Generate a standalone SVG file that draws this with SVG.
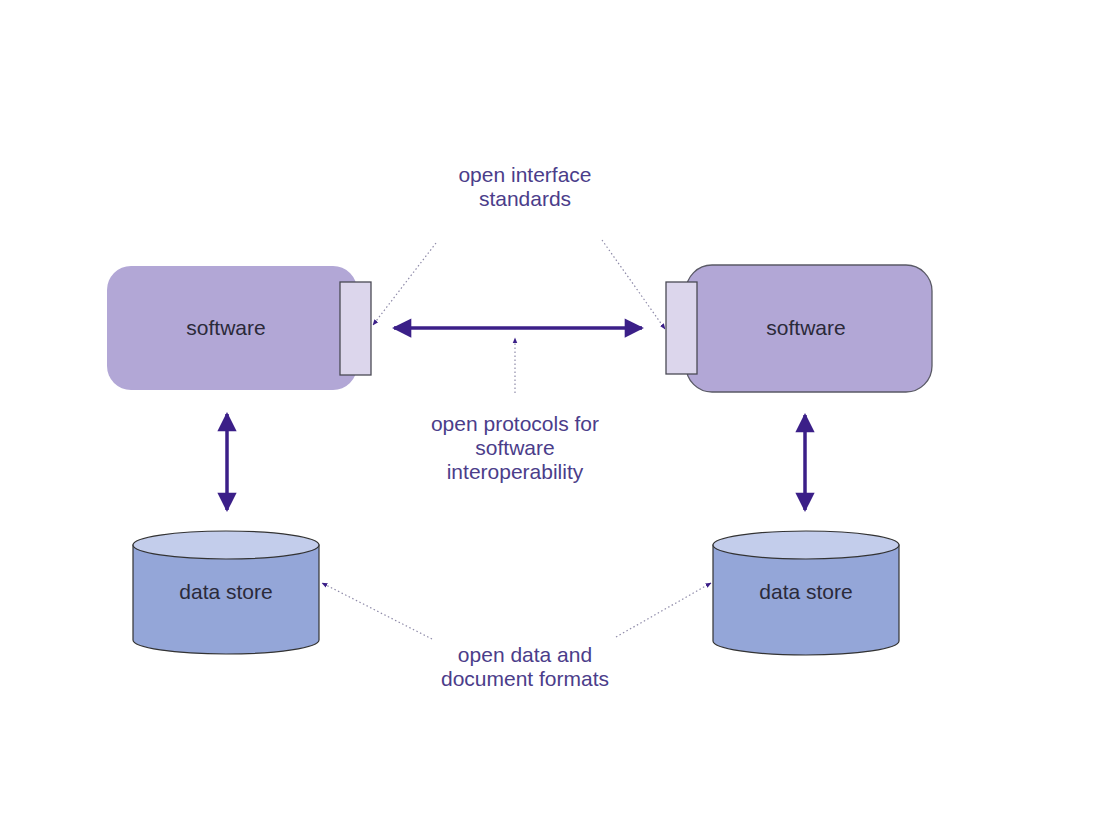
<svg xmlns="http://www.w3.org/2000/svg" width="1100" height="824" viewBox="0 0 1100 824">
<style>
.sw{fill:#b2a7d6;}
.swr{fill:#b2a7d6;stroke:#5a5a66;stroke-width:1.3;}
.iface{fill:#dcd6ec;stroke:#4a4a55;stroke-width:1.3;}
.side{fill:#94a6d8;stroke:#333;stroke-width:1.2;}
.top{fill:#c3cdeb;stroke:#333;stroke-width:1.2;}
.lbl{font-family:"Liberation Sans",Arial,sans-serif;font-size:21px;fill:#2b2a3a;text-anchor:middle;}
.note{font-family:"Liberation Sans",Arial,sans-serif;font-size:21px;fill:#4b3d8a;text-anchor:middle;}
.thick{stroke:#3b1f88;stroke-width:3.5;fill:none;marker-start:url(#ah);marker-end:url(#ah);}
.dot{stroke:#8e8aa8;stroke-width:1.2;stroke-dasharray:1.5 2.5;fill:none;marker-end:url(#sah);}
</style>
<defs>
<marker id="ah" viewBox="0 0 10 10" refX="9" refY="5" markerWidth="6.5" markerHeight="5.5" orient="auto-start-reverse" markerUnits="strokeWidth"><path d="M0,0 L10,5 L0,10 z" fill="#3b1f88"/></marker>
<marker id="sah" viewBox="0 0 10 10" refX="9" refY="5" markerWidth="5" markerHeight="5" orient="auto" markerUnits="strokeWidth"><path d="M0,1 L10,5 L0,9 z" fill="#3b1f88"/></marker>
</defs>
<rect width="1100" height="824" fill="#ffffff"/>
<g id="software-left">
<rect class="sw" x="107" y="266" width="250" height="124" rx="24"/>
<rect class="iface" x="340" y="282" width="31" height="93"/>
<text class="lbl" x="226" y="335">software</text>
</g>
<g id="software-right">
<rect class="swr" x="686" y="265" width="246" height="127" rx="26"/>
<rect class="iface" x="666" y="282" width="31" height="92"/>
<text class="lbl" x="806" y="335">software</text>
</g>
<g id="datastore-left">
<path class="side" d="M133,545 L133,640 A93,14 0 0 0 319,640 L319,545 z"/>
<ellipse class="top" cx="226" cy="545" rx="93" ry="14"/>
<text class="lbl" x="226" y="599">data store</text>
</g>
<g id="datastore-right">
<path class="side" d="M713,545 L713,641 A93,14 0 0 0 899,641 L899,545 z"/>
<ellipse class="top" cx="806" cy="545" rx="93" ry="14"/>
<text class="lbl" x="806" y="599">data store</text>
</g>
<g id="label-interface">
<text class="note" x="525" y="182">open interface</text>
<text class="note" x="525" y="206">standards</text>
</g>
<g id="label-protocols">
<text class="note" x="515" y="431">open protocols for</text>
<text class="note" x="515" y="455">software</text>
<text class="note" x="515" y="479">interoperability</text>
</g>
<g id="label-formats">
<text class="note" x="525" y="662">open data and</text>
<text class="note" x="525" y="686">document formats</text>
</g>
<g id="connectors">
<line class="thick" x1="394" y1="328" x2="642" y2="328"/>
<line class="thick" x1="227" y1="414" x2="227" y2="510"/>
<line class="thick" x1="805" y1="415" x2="805" y2="510"/>
<line class="dot" x1="515" y1="393" x2="515" y2="338"/>
<line class="dot" x1="436" y1="243" x2="373" y2="325"/>
<line class="dot" x1="602" y1="240" x2="665" y2="329"/>
<line class="dot" x1="432" y1="639" x2="322" y2="583"/>
<line class="dot" x1="616" y1="637" x2="711" y2="583"/>
</g>
</svg>
